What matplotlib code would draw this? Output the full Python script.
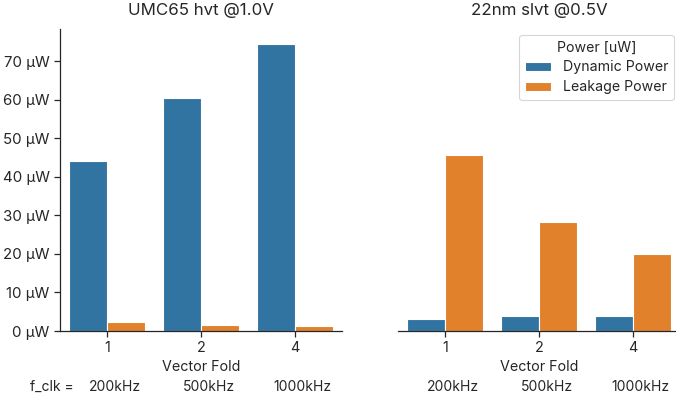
import matplotlib.pyplot as plt
import numpy as np

plt.rcParams['font.family'] = ['Inter', 'DejaVu Sans']
plt.rcParams['text.color'] = '#262626'
plt.rcParams['axes.labelcolor'] = '#262626'
plt.rcParams['xtick.color'] = '#262626'
plt.rcParams['ytick.color'] = '#262626'

# Measured power per vector fold
folds = ['1', '2', '4']
clocks = ['200kHz', '500kHz', '1000kHz']
umc65_dynamic = [44.0, 60.3, 74.5]
umc65_leakage = [2.3, 1.5, 1.2]
gf22_dynamic = [3.0, 3.9, 4.0]
gf22_leakage = [45.6, 28.2, 20.0]

titles = ['UMC65 hvt @1.0V', '22nm slvt @0.5V']
series = [(umc65_dynamic, umc65_leakage), (gf22_dynamic, gf22_leakage)]
colors = ['#3274a1', '#e1812c']
labels = ['Dynamic Power', 'Leakage Power']

fig = plt.figure(figsize=(6.76, 3.94), dpi=100)
ax1 = fig.add_axes([60 / 676, 63 / 394, 282 / 676, 302 / 394])
ax2 = fig.add_axes([398 / 676, 63 / 394, 282 / 676, 302 / 394], sharey=ax1)

x = np.arange(len(folds))
w = 0.4
for ax, title, (dyn, leak) in zip([ax1, ax2], titles, series):
    for k, vals in enumerate([dyn, leak]):
        ax.bar(x - w / 2 + k * w, vals, width=w, color=colors[k],
               edgecolor='white', linewidth=0.8, label=labels[k])
    ax.set_xlim(-0.5, 2.5)
    ax.set_xticks(x)
    ax.set_xticklabels(folds, fontsize=10.3)
    ax.set_xlabel('Vector Fold', fontsize=10.3, labelpad=3)
    ax.set_title(title, fontsize=12.2, pad=10)
    ax.spines['top'].set_visible(False)
    ax.spines['right'].set_visible(False)
    ax.tick_params(length=4.5, width=0.9, pad=3)
    for s in ax.spines.values():
        s.set_linewidth(0.9)
        s.set_color('#262626')
    # clock frequency under each fold
    for i, c in enumerate(clocks):
        ax.text(i + 0.08, -0.185, c, transform=ax.get_xaxis_transform(),
                ha='center', va='center', fontsize=10)

ax1.set_ylim(0, 78.3)
ax1.set_yticks(np.arange(0, 80, 10))
ax1.set_yticklabels([f'{v} µW' for v in range(0, 80, 10)], fontsize=10.8)
ax1.text(-0.585, -0.185, 'f_clk =', transform=ax1.get_xaxis_transform(),
         ha='center', va='center', fontsize=10)

ax2.spines['left'].set_visible(False)
ax2.tick_params(axis='y', left=False, labelleft=False)

leg = ax2.legend(title='Power [uW]', loc='upper right',
                 bbox_to_anchor=(674 / 676, 359 / 394),
                 bbox_transform=fig.transFigure, borderaxespad=0,
                 fontsize=10.2, title_fontsize=10.2, frameon=True,
                 fancybox=True, handlelength=1.85, handleheight=0.6,
                 borderpad=0.4, labelspacing=0.4, handletextpad=0.85)
leg.get_frame().set_edgecolor('#cccccc')
leg.get_frame().set_linewidth(0.8)

fig.savefig('out.png', dpi=100)
